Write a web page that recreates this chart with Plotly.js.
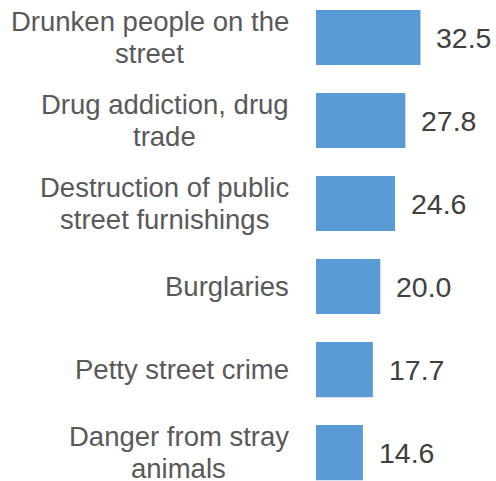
<!DOCTYPE html>
<html><head><meta charset="utf-8">
<script src="https://cdn.plot.ly/plotly-3.0.1.min.js"></script>
<style>html,body{margin:0;padding:0;background:#fff}#chart{width:496px;height:481px}</style>
</head><body><div id="chart"></div>
<script>
const categories = [
  "Drunken people on the\nstreet",
  "Drug addiction, drug\ntrade",
  "Destruction of public\nstreet furnishings",
  "Burglaries",
  "Petty street crime",
  "Danger from stray\nanimals"
];
const values = [32.5, 27.8, 24.6, 20.0, 17.7, 14.6];

const idx = categories.map((c, i) => i);
const labelSize = 27.5;
const labelFont = {family: "Liberation Sans, Arial, sans-serif", size: labelSize, color: "#595959"};
const valueFont = {family: "Liberation Sans, Arial, sans-serif", size: 28.5, color: "#404040"};
const cv = document.createElement("canvas").getContext("2d");
cv.font = labelSize + "px 'Liberation Sans', Arial, sans-serif";
const annotations = [];
categories.forEach((c, i) => {
  const lines = c.split("\n");
  const n = lines.length;
  const widths = lines.map(l => cv.measureText(l).width);
  const maxW = Math.max(...widths);
  lines.forEach((ln, j) => {
    annotations.push({
      xref: "paper", yref: "y", x: -0.14, y: i,
      xanchor: "right", yanchor: "middle",
      text: ln, showarrow: false, align: "center",
      font: labelFont,
      yshift: ((n - 1) / 2 - j) * 32,
      xshift: -(maxW - widths[j]) / 2
    });
  });
});
values.forEach((v, i) => {
  annotations.push({
    xref: "x", yref: "y", x: v, y: i,
    xanchor: "left", yanchor: "middle",
    text: v.toFixed(1), showarrow: false,
    font: valueFont, xshift: 14
  });
});

const trace = {
  type: "bar", orientation: "h",
  x: values, y: idx,
  marker: {color: "#5B9BD5"},
  width: 0.665,
  hoverinfo: "none"
};
const layout = {
  width: 496, height: 481,
  margin: {l: 316, r: 0, t: 0, b: 0, pad: 0},
  paper_bgcolor: "#fff", plot_bgcolor: "#fff",
  showlegend: false,
  xaxis: {range: [0, 56], visible: false, fixedrange: true},
  yaxis: {range: [5.343, -0.452], visible: false, fixedrange: true},
  annotations: annotations
};
Plotly.newPlot("chart", [trace], layout, {displayModeBar: false, staticPlot: true});
</script></body></html>
